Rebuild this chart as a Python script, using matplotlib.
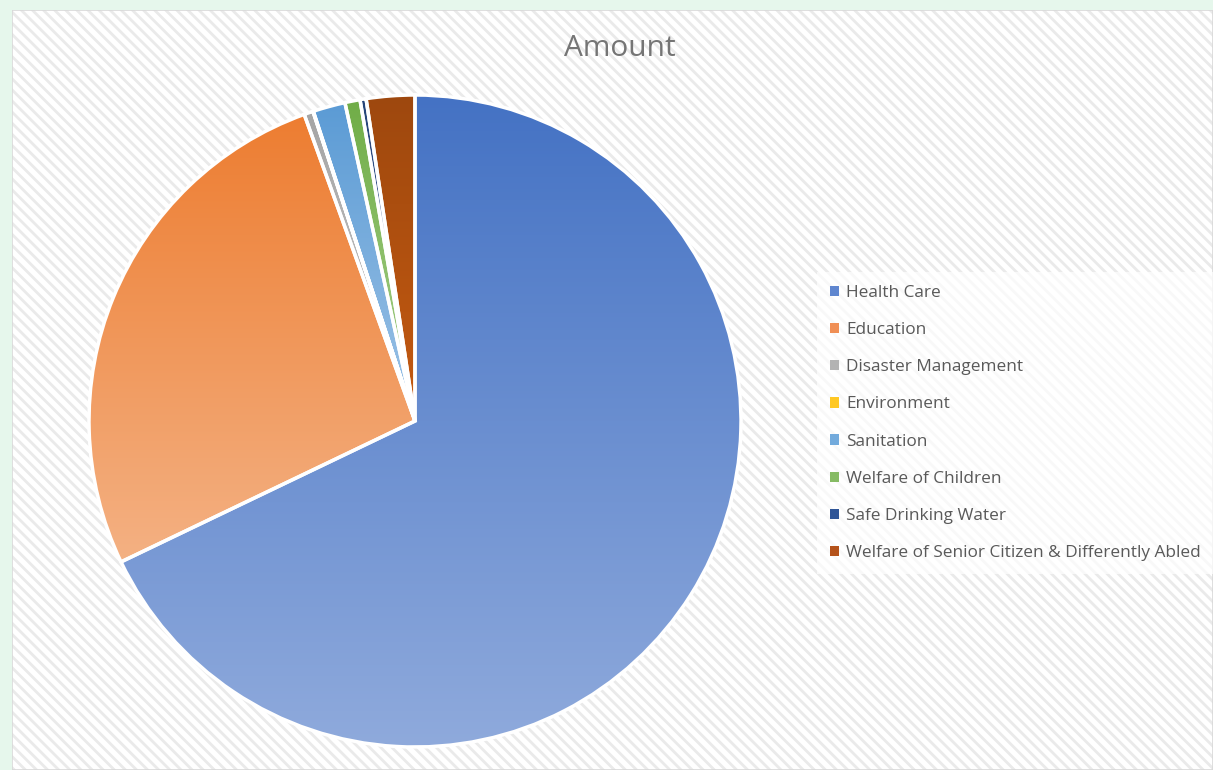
import numpy as np
import matplotlib.pyplot as plt
from matplotlib.patches import Rectangle
from matplotlib.colors import LinearSegmentedColormap

plt.rcParams['font.family'] = ['Open Sans', 'DejaVu Sans']
plt.rcParams['hatch.linewidth'] = 2.0

# Share of total amount by sector (%)
categories = ["Health Care", "Education", "Disaster Management", "Environment",
              "Sanitation", "Welfare of Children", "Safe Drinking Water",
              "Welfare of Senior Citizen & Differently Abled"]
amounts = [67.9, 26.6, 0.45, 0.02, 1.6, 0.75, 0.3, 2.4]

top_colors = ['#4472C4', '#ED7D31', '#A5A5A5', '#FFC000',
              '#5B9BD5', '#70AD47', '#264478', '#9E480E']
bottom_colors = ['#8FAADC', '#F4B183', '#C9C9C9', '#FFD966',
                 '#9DC3E6', '#A9D18E', '#4A6FB0', '#C55A11']
legend_colors = ['#5F86CF', '#F08F55', '#B3B3B3', '#FFC824',
                 '#72AADC', '#86BB64', '#2F5597', '#B4521A']

fig = plt.figure(figsize=(12.13, 7.70), dpi=100, facecolor='#E6F7EC')

# chart area with diagonal stripe pattern
bg = fig.add_axes([12 / 1213, 0, 1 - 12 / 1213, 1 - 10 / 770])
bg.set_axis_off()
bg.add_patch(Rectangle((0, 0), 1, 1, transform=bg.transAxes, facecolor='white',
                       edgecolor='#EAEAEA', hatch='\\\\\\', linewidth=0))
bg.add_patch(Rectangle((0, 0), 1, 1, transform=bg.transAxes, facecolor='none',
                       edgecolor='#D9D9D9', linewidth=1.2))

r_px = 326
ax = fig.add_axes([(415 - r_px) / 1213, (770 - 421 - r_px) / 770,
                   2 * r_px / 1213, 2 * r_px / 770])
wedges, _ = ax.pie(amounts, startangle=90, counterclock=False, radius=1,
                   wedgeprops=dict(edgecolor='white', linewidth=2.5))

# vertical gradient fill inside each slice
grad = np.linspace(0, 1, 256).reshape(-1, 1)
for w, c_top, c_bot in zip(wedges, top_colors, bottom_colors):
    ext = w.get_path().get_extents()
    cmap = LinearSegmentedColormap.from_list('g', [c_bot, c_top])
    im = ax.imshow(grad, cmap=cmap, origin='lower', aspect='auto',
                   extent=[ext.x0, ext.x1, ext.y0, ext.y1], zorder=2)
    im.set_clip_path(w)
    w.set_facecolor('none')
    w.set_zorder(3)
ax.set_xlim(-1.0, 1.0)
ax.set_ylim(-1.0, 1.0)
ax.set_aspect('equal')
ax.set_axis_off()

fig.text(620 / 1213, 1 - 48 / 770, 'Amount', ha='center', va='center',
         fontsize=21.5, color='#757575')

handles = [Rectangle((0, 0), 1, 1, facecolor=c, edgecolor='none') for c in legend_colors]
leg = fig.legend(handles, categories, loc='upper left',
                 bbox_to_anchor=(817 / 1213, 1 - 272 / 770),
                 frameon=True, fontsize=12.4, labelcolor='#595959',
                 handlelength=0.55, handleheight=0.55, handletextpad=0.4,
                 labelspacing=1.23, borderaxespad=0, borderpad=0.75)
leg.get_frame().set_facecolor('white')
leg.get_frame().set_alpha(0.7)
leg.get_frame().set_edgecolor('none')
leg.get_frame().set_boxstyle('square', pad=0)

fig.savefig('out.png', dpi=100, facecolor=fig.get_facecolor())
